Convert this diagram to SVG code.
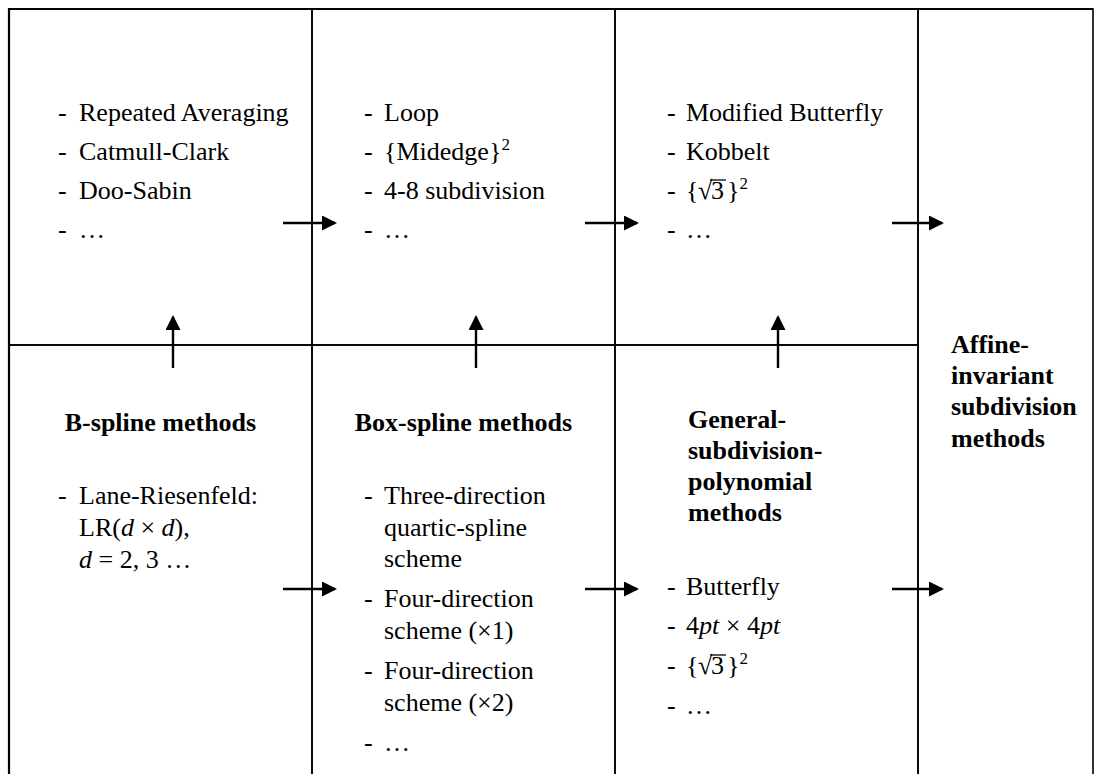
<svg xmlns="http://www.w3.org/2000/svg" width="1096" height="774" viewBox="0 0 1096 774">
<style>
.cell{fill:none;stroke:#000;stroke-width:1.6}
.outer{fill:none;stroke:#000;stroke-width:2.2}
text{font-family:"Liberation Serif","Times New Roman",serif;font-size:26px;fill:#000}
.b{font-weight:bold}
.c{text-anchor:middle}
.i{font-style:italic}
.sup{font-size:17px}
.con line{stroke:#000;stroke-width:2.4}
.bar{stroke:#000;stroke-width:1.3}
</style>
<defs>
<marker id="ah" markerWidth="15" markerHeight="15" refX="13" refY="7.5" orient="auto" markerUnits="userSpaceOnUse"><path d="M0,0 L15,7.5 L0,15 Z" fill="#000"/></marker>
</defs>
<rect width="1096" height="774" fill="#fff"/>

<g id="cell-top-bspline">
<rect class="cell" x="9" y="9" width="303" height="336"/>
<text x="58" y="121">-</text><text x="79" y="121">Repeated Averaging</text>
<text x="58" y="160">-</text><text x="79" y="160">Catmull-Clark</text>
<text x="58" y="199">-</text><text x="79" y="199">Doo-Sabin</text>
<text x="58" y="238">-</text><text x="79" y="238">…</text>
</g>

<g id="cell-top-boxspline">
<rect class="cell" x="312" y="9" width="303" height="336"/>
<text x="364" y="121">-</text><text x="384" y="121">Loop</text>
<text x="364" y="160">-</text><text x="384" y="160">{Midedge}<tspan class="sup" dy="-10">2</tspan></text>
<text x="364" y="199">-</text><text x="384" y="199">4-8 subdivision</text>
<text x="364" y="238">-</text><text x="384" y="238">…</text>
</g>

<g id="cell-top-general">
<rect class="cell" x="615" y="9" width="303" height="336"/>
<text x="667" y="121">-</text><text x="686" y="121">Modified Butterfly</text>
<text x="667" y="160">-</text><text x="686" y="160">Kobbelt</text>
<text x="667" y="199">-</text><text x="686" y="199">{</text><text x="698" y="199">√</text><text x="711" y="199">3</text><text x="727" y="199">}<tspan class="sup" dy="-10">2</tspan></text>
<line class="bar" x1="710" y1="180" x2="726" y2="180"/>
<text x="667" y="238">-</text><text x="686" y="238">…</text>
</g>

<g id="cell-bottom-bspline">
<rect class="cell" x="9" y="345" width="303" height="440"/>
<text class="b c" x="160.5" y="431">B-spline methods</text>
<text x="58" y="504">-</text><text x="79" y="504">Lane-Riesenfeld:</text>
<text x="79" y="536">LR(<tspan class="i">d</tspan> × <tspan class="i">d</tspan>),</text>
<text x="79" y="568"><tspan class="i">d</tspan> = 2, 3 …</text>
</g>

<g id="cell-bottom-boxspline">
<rect class="cell" x="312" y="345" width="303" height="440"/>
<text class="b c" x="463.5" y="431">Box-spline methods</text>
<text x="364" y="504">-</text><text x="384" y="504">Three-direction</text>
<text x="384" y="535.5">quartic-spline</text>
<text x="384" y="567">scheme</text>
<text x="364" y="607">-</text><text x="384" y="607">Four-direction</text>
<text x="384" y="639">scheme (×1)</text>
<text x="364" y="679">-</text><text x="384" y="679">Four-direction</text>
<text x="384" y="711">scheme (×2)</text>
<text x="364" y="751">-</text><text x="384" y="751">…</text>
</g>

<g id="cell-bottom-general">
<rect class="cell" x="615" y="345" width="303" height="440"/>
<text class="b" x="688" y="428">General-</text>
<text class="b" x="688" y="459">subdivision-</text>
<text class="b" x="688" y="490">polynomial</text>
<text class="b" x="688" y="521">methods</text>
<text x="667" y="595">-</text><text x="686" y="595">Butterfly</text>
<text x="667" y="634">-</text><text x="686" y="634">4<tspan class="i">pt</tspan> × 4<tspan class="i">pt</tspan></text>
<text x="667" y="674">-</text><text x="686" y="674">{</text><text x="698" y="674">√</text><text x="711" y="674">3</text><text x="727" y="674">}<tspan class="sup" dy="-10">2</tspan></text>
<line class="bar" x1="710" y1="655" x2="726" y2="655"/>
<text x="667" y="714">-</text><text x="686" y="714">…</text>
</g>

<g id="cell-affine">
<rect class="cell" x="918" y="9" width="175" height="776"/>
<text class="b" x="951" y="353">Affine-</text>
<text class="b" x="951" y="384">invariant</text>
<text class="b" x="951" y="415">subdivision</text>
<text class="b" x="951" y="446.5">methods</text>
</g>

<path class="outer" d="M9,785 V9 H1093"/>

<g id="connectors" class="con">
<line x1="283" y1="223" x2="335" y2="223" marker-end="url(#ah)"/>
<line x1="585" y1="223" x2="637" y2="223" marker-end="url(#ah)"/>
<line x1="892" y1="223" x2="942" y2="223" marker-end="url(#ah)"/>
<line x1="283" y1="589" x2="335" y2="589" marker-end="url(#ah)"/>
<line x1="585" y1="589" x2="637" y2="589" marker-end="url(#ah)"/>
<line x1="892" y1="589" x2="942" y2="589" marker-end="url(#ah)"/>
<line x1="173" y1="368" x2="173" y2="317" marker-end="url(#ah)"/>
<line x1="476" y1="368" x2="476" y2="317" marker-end="url(#ah)"/>
<line x1="778" y1="368" x2="778" y2="317" marker-end="url(#ah)"/>
</g>
</svg>
